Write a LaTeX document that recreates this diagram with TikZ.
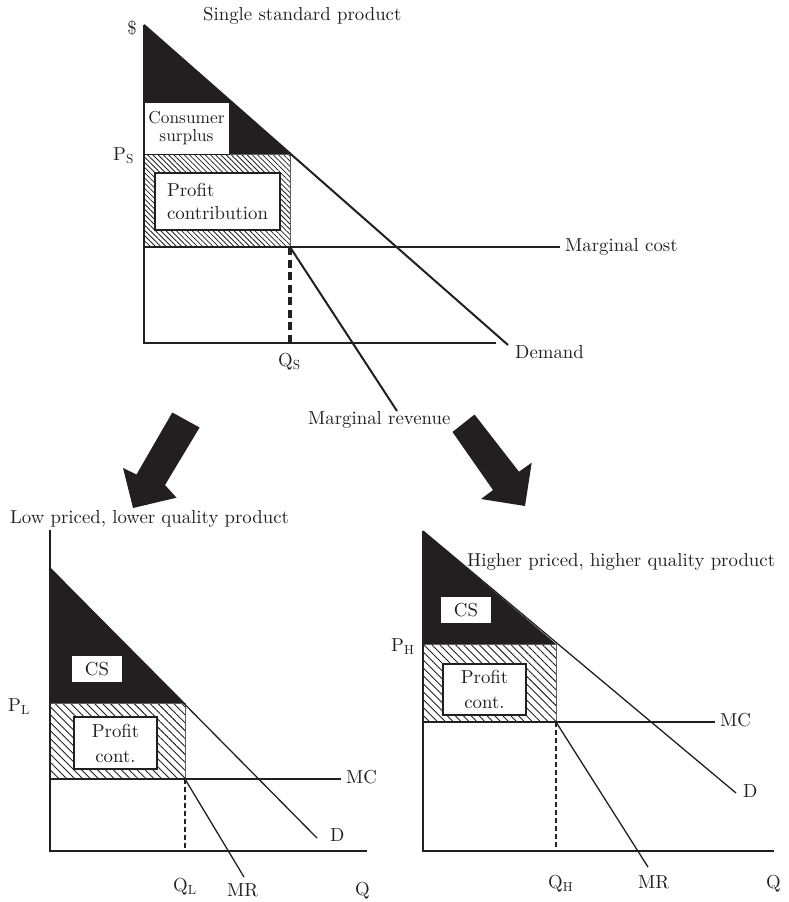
\documentclass[tikz,border=0pt]{standalone}
\usepackage{fontspec}
\setmainfont{lmroman10-regular.otf}
\usetikzlibrary{patterns.meta}
\definecolor{ink}{RGB}{35,31,32}
\definecolor{rim}{RGB}{95,92,92}
\tikzset{
  thickln/.style={draw=ink, line width=2pt},
  thinln/.style={draw=ink, line width=1.3pt},
  lbl/.style={anchor=base west, text=ink, inner sep=0pt},
  whitebox/.style={draw=ink, fill=white, line width=1pt, inner sep=0pt, text=ink},
  hatchfine/.style={pattern={Lines[angle=-45,distance=3.7pt,line width=0.8pt]}, pattern color=ink, draw=rim, line width=1pt},
  hatchwide/.style={pattern={Lines[angle=-45,distance=5.6pt,line width=0.9pt]}, pattern color=ink, draw=rim, line width=1pt},
  bigarrow/.style={fill=ink, draw=none}
}
\newcommand{\basefont}{\fontsize{18.8}{23}\selectfont}
\begin{document}
\begin{tikzpicture}[x=1pt, y=-1pt, font=\basefont]
\useasboundingbox (0,0) rectangle (789,902);

% ---------- single standard product ----------
\coordinate (tO) at (144,343);
\coordinate (tTop) at (144,25);
\coordinate (tP) at (144,154);
\coordinate (tK) at (290,154);
\coordinate (tM) at (144,247);
\coordinate (tQm) at (290,247);
\coordinate (tQ) at (290,343);
\coordinate (tMCend) at (560,247);
\coordinate (tXend) at (496,343);
\coordinate (tDend) at (508,345);
\coordinate (tMRend) at (397,411);

\fill[ink] (tTop) -- (tP) -- (tK) -- cycle;
\path[hatchfine] (tP) rectangle (tQm);
\node[whitebox, minimum width=85, minimum height=52, align=center,
      font=\fontsize{17.3}{18}\selectfont] (tCS) at (186.5,128) {Consumer\\surplus};
\node[whitebox, line width=1.3pt, minimum width=125, minimum height=57, align=left] (tPC) at (217.5,201.5) {Profit\\contribution};

\draw[thickln] (tTop) -- (tO) -- (tXend);
\draw[thickln] (tM) -- (tMCend);
\draw[thickln] (tTop) -- (tDend);
\draw[thickln] (tQm) -- (tMRend);
\draw[draw=ink, line width=3.4pt, dash pattern=on 8pt off 4.5pt] (tQm) -- (tQ);

\node[lbl] (tTitle) at (203,20.5) {Single standard product};
\node[text=ink, inner sep=0pt] (tDollar) at (132,28) {\$};
\node[lbl] (tPS) at (113,160) {P\textsubscript{S}};
\node[lbl] (tMC) at (565,251) {Marginal cost};
\node[lbl] (tD) at (515,358.5) {Demand};
\node[lbl] (tQS) at (278,366) {Q\textsubscript{S}};
\node[lbl] (tMR) at (308,424) {Marginal revenue};

% ---------- arrows between the panels ----------
\fill[bigarrow] (452.5,432) -- (474.5,414.5) -- (519,471.7) -- (531.7,462.7)
  -- (525,506) -- (481,499) -- (493,490) -- cycle;
\fill[bigarrow] (172.3,412.5) -- (199.6,427.5) -- (165,485) -- (176.5,497.7)
  -- (133,508) -- (123,468) -- (136.5,474.5) -- cycle;

% ---------- low priced, lower quality product ----------
\coordinate (lO) at (50,851);
\coordinate (lAx) at (50,530);
\coordinate (lTop) at (50,568);
\coordinate (lP) at (50,703);
\coordinate (lK) at (185,703);
\coordinate (lM) at (50,779);
\coordinate (lQm) at (185,779);
\coordinate (lQ) at (185,851);
\coordinate (lMCend) at (341,779);
\coordinate (lXend) at (367,851);
\coordinate (lDend) at (317,838);
\coordinate (lMRend) at (244,877);

\fill[ink] (lTop) -- (lP) -- (lK) -- cycle;
\path[hatchwide] (lP) rectangle (lQm);
\node[fill=white, inner sep=0pt, minimum width=50, minimum height=26, text=ink] (lCS) at (97,669) {CS};
\node[whitebox, line width=1.3pt, minimum width=83, minimum height=52, align=center,
      font=\fontsize{18.8}{25}\selectfont] (lPC) at (115.5,743) {Profit\\cont.};

\draw[thinln] (lAx) -- (lO) -- (lXend);
\draw[thinln] (lM) -- (lMCend);
\draw[thinln] (lTop) -- (lDend);
\draw[thinln] (lQm) -- (lMRend);
\draw[draw=ink, line width=1.2pt, dash pattern=on 5pt off 3pt] (lQm) -- (lQ);

\node[lbl] (lTitle) at (10,523) {Low priced, lower quality product};
\node[lbl] (lPL) at (8,711.5) {P\textsubscript{L}};
\node[lbl] (lMC) at (346,783) {MC};
\node[lbl] (lD) at (330,841) {D};
\node[lbl] (lQL) at (173,891) {Q\textsubscript{L}};
\node[lbl] (lMR) at (227,896) {MR};
\node[lbl] (lQlab) at (355,895) {Q};

% ---------- higher priced, higher quality product ----------
\coordinate (hO) at (423,851);
\coordinate (hTop) at (423,531);
\coordinate (hP) at (423,644);
\coordinate (hK) at (556,644);
\coordinate (hM) at (423,722);
\coordinate (hQm) at (556,722);
\coordinate (hQ) at (556,851);
\coordinate (hMCend) at (715,722);
\coordinate (hXend) at (774,851);
\coordinate (hDend) at (736,793);
\coordinate (hMRend) at (648,867);

\fill[ink] (hTop) -- (hP) -- (hK) -- cycle;
\path[hatchwide] (hP) rectangle (hQm);
\node[fill=white, inner sep=0pt, minimum width=50, minimum height=26, text=ink] (hCS) at (466,610) {CS};
\node[whitebox, line width=1.3pt, minimum width=83, minimum height=51, align=center,
      font=\fontsize{18.8}{25}\selectfont] (hPC) at (484.5,689.5) {Profit\\cont.};

\draw[thinln] (hTop) -- (hO) -- (hXend);
\draw[thinln] (hM) -- (hMCend);
\draw[thinln] (hTop) -- (hDend);
\draw[thinln] (hQm) -- (hMRend);
\draw[draw=ink, line width=1.2pt, dash pattern=on 5pt off 3pt] (hQm) -- (hQ);

\node[lbl] (hTitle) at (467,566.5) {Higher priced, higher quality product};
\node[lbl] (hPH) at (391,651) {P\textsubscript{H}};
\node[lbl] (hMC) at (720,726) {MC};
\node[lbl] (hD) at (743,797) {D};
\node[lbl] (hQH) at (548,888) {Q\textsubscript{H}};
\node[lbl] (hMR) at (638,888) {MR};
\node[lbl] (hQlab) at (766,888) {Q};
\end{tikzpicture}
\end{document}
